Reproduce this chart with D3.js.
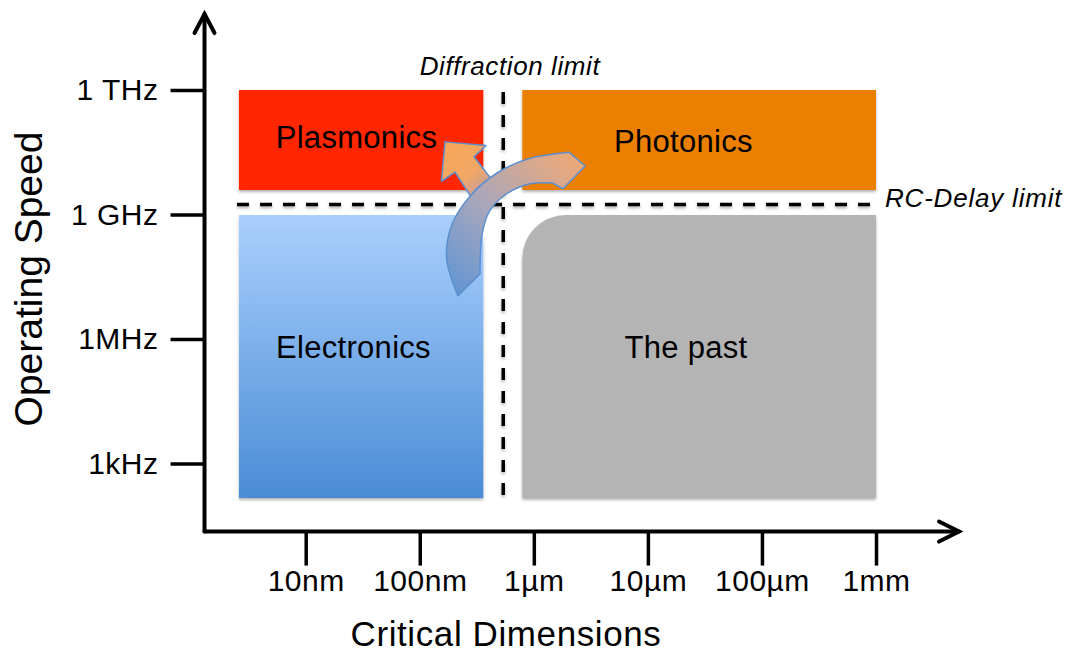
<!DOCTYPE html>
<html>
<head>
<meta charset="utf-8">
<script src="https://cdn.jsdelivr.net/npm/d3@7"></script>
<style>
  body { margin: 0; background: #fff; }
  svg text { font-family: "Liberation Sans", Arial, Helvetica, sans-serif; fill: #000; }
</style>
</head>
<body>
<div id="chart"></div>
<script>
// all positions in log10 units: x = log10(metres), y = log10(Hz)
const xTickValues = [-8, -7, -6, -5, -4, -3];
const xTickLabels = ["10nm", "100nm", "1µm", "10µm", "100µm", "1mm"];
const yTickValues = [3, 6, 9, 12];
const yTickLabels = ["1kHz", "1MHz", "1 GHz", "1 THz"];

const regionNames = ["Plasmonics", "Photonics", "Electronics", "The past"];
const regionX0 = [-8.585, -6.101, -8.585, -6.101];
const regionX1 = [-6.443, -3.0, -6.443, -3.0];
const regionY0 = [9.59, 9.59, 2.17, 2.17];
const regionY1 = [12.0, 12.0, 8.99, 8.99];
const labelX = [-7.555, -4.688, -7.581, -4.666];
const labelY = [10.60, 10.51, 5.54, 5.54];

const diffractionLimit = -6.268;   // vertical dashed line
const rcDelayLimit = 9.24;         // horizontal dashed line

// curved block arrow (electronics -> photonics) outline
const bigOuterX = [-6.665, -6.765, -6.720, -6.560, -6.323, -6.060, -5.841];
const bigOuterY = [7.04, 7.95, 8.74, 9.44, 10.0, 10.33, 10.45];
const bigHeadX = [-5.690, -5.550, -5.744, -5.841];
const bigHeadY = [10.50, 10.17, 9.62, 9.76];
const bigInnerX = [-5.841, -6.033, -6.253, -6.393, -6.454, -6.472];
const bigInnerY = [9.76, 9.74, 9.47, 9.06, 8.51, 7.57];
// small arrow towards plasmonics
const smallX = [-6.779, -6.420, -6.524, -6.330, -6.516, -6.691, -6.810];
const smallY = [10.75, 10.66, 10.39, 9.70, 9.28, 10.02, 9.80];

const width = 1075, height = 655;
const svg = d3.select("#chart").append("svg")
    .attr("width", width)
    .attr("height", height);

const x = d3.scaleLinear().domain([-8, -3]).range([305.7, 876]);
const y = d3.scaleLinear().domain([3, 12]).range([463.5, 90]);

const defs = svg.append("defs");
const shadow = defs.append("filter").attr("id", "shadow")
    .attr("x", "-10%").attr("y", "-10%").attr("width", "120%").attr("height", "130%");
shadow.append("feDropShadow").attr("dx", 0).attr("dy", 2)
    .attr("stdDeviation", 1.5).attr("flood-color", "#000").attr("flood-opacity", 0.3);

const blueGrad = defs.append("linearGradient").attr("id", "blueGrad")
    .attr("x1", 0).attr("y1", 0).attr("x2", 0).attr("y2", 1);
blueGrad.append("stop").attr("offset", "0%").attr("stop-color", "#aad0fd");
blueGrad.append("stop").attr("offset", "100%").attr("stop-color", "#4a8cd6");

const bigGrad = defs.append("linearGradient").attr("id", "bigGrad")
    .attr("gradientUnits", "userSpaceOnUse")
    .attr("x1", x(-6.66)).attr("y1", y(7.1))
    .attr("x2", x(-5.6)).attr("y2", y(10.3));
bigGrad.append("stop").attr("offset", "0%").attr("stop-color", "#6496d2");
bigGrad.append("stop").attr("offset", "45%").attr("stop-color", "#a7a6bc");
bigGrad.append("stop").attr("offset", "100%").attr("stop-color", "#efa977");

const smallGrad = defs.append("linearGradient").attr("id", "smallGrad")
    .attr("gradientUnits", "userSpaceOnUse")
    .attr("x1", x(-6.75)).attr("y1", y(10.7))
    .attr("x2", x(-6.4)).attr("y2", y(9.4));
smallGrad.append("stop").attr("offset", "0%").attr("stop-color", "#f7a75a");
smallGrad.append("stop").attr("offset", "55%").attr("stop-color", "#f2a765");
smallGrad.append("stop").attr("offset", "100%").attr("stop-color", "#b69cb0");

const fills = ["#ff2600", "#eb7f05", "url(#blueGrad)", "#b4b4b4"];

// rect path with optional rounded top-right / top-left corner
function regionPath(i) {
    let x0 = x(regionX0[i]), x1 = x(regionX1[i]);
    let y0 = y(regionY1[i]), y1 = y(regionY0[i]);
    let p = d3.path();
    if (i == 2) {
        let r = 28;
        p.moveTo(x0, y0);
        p.lineTo(x1 - r, y0);
        p.arcTo(x1, y0, x1, y0 + r, r);
        p.lineTo(x1, y1);
        p.lineTo(x0, y1);
    } else if (i == 3) {
        let r = 44;
        p.moveTo(x0 + r, y0);
        p.lineTo(x1, y0);
        p.lineTo(x1, y1);
        p.lineTo(x0, y1);
        p.lineTo(x0, y0 + r);
        p.arcTo(x0, y0, x0 + r, y0, r);
    } else {
        p.rect(x0, y0, x1 - x0, y1 - y0);
    }
    p.closePath();
    return p.toString();
}

svg.append("g").selectAll("path")
    .data(regionNames)
    .enter()
    .append("path")
    .attr("d", (d, i) => regionPath(i))
    .attr("fill", (d, i) => fills[i])
    .attr("filter", "url(#shadow)");

// dashed limit lines
const dashes = svg.append("g").attr("filter", "url(#shadow)")
    .attr("stroke", "#000").attr("stroke-width", 3.5).attr("stroke-dasharray", "12,11");
dashes.append("line")
    .attr("x1", x(-8.602)).attr("x2", x(-2.982))
    .attr("y1", y(rcDelayLimit)).attr("y2", y(rcDelayLimit));
dashes.append("line")
    .attr("x1", x(diffractionLimit)).attr("x2", x(diffractionLimit))
    .attr("y1", y(11.95)).attr("y2", y(2.24));

// region labels
svg.append("g").selectAll("text")
    .data(regionNames)
    .enter()
    .append("text")
    .attr("x", (d, i) => x(labelX[i]))
    .attr("y", (d, i) => y(labelY[i]))
    .attr("text-anchor", "middle")
    .style("font-size", "31px")
    .style("letter-spacing", "0.3px")
    .text(d => d);

// arrows
const smallPts = smallX.map((v, i) => [x(v), y(smallY[i])]);
svg.append("path")
    .attr("d", "M" + smallPts.join("L") + "Z")
    .attr("fill", "url(#smallGrad)")
    .attr("stroke", "#5b8fd0")
    .attr("stroke-width", 1.5)
    .attr("stroke-linejoin", "round");

const curve = d3.line().curve(d3.curveCatmullRom.alpha(0.5));
const outerPts = bigOuterX.map((v, i) => [x(v), y(bigOuterY[i])]);
const headPts = bigHeadX.map((v, i) => [x(v), y(bigHeadY[i])]);
const innerPts = bigInnerX.map((v, i) => [x(v), y(bigInnerY[i])]);
let bigD = curve(outerPts) + "L" + headPts.join("L") + curve(innerPts).replace(/^M/, "L") + "Z";
svg.append("path")
    .attr("d", bigD)
    .attr("fill", "url(#bigGrad)")
    .attr("stroke", "#5b8fd0")
    .attr("stroke-width", 1.5)
    .attr("stroke-linejoin", "round");

// limit labels
svg.append("text")
    .attr("x", x(-6.209)).attr("y", y(12.36))
    .attr("text-anchor", "middle")
    .style("font-size", "26px").style("font-style", "italic")
    .style("letter-spacing", "0.6px")
    .text("Diffraction limit");
svg.append("text")
    .attr("x", x(-2.921)).attr("y", y(9.18))
    .style("font-size", "26px").style("font-style", "italic")
    .style("letter-spacing", "0.8px")
    .text("RC-Delay limit");

// axes
const xAxisY = y(1.36), yAxisX = x(-8.887);

const xAxis = d3.axisBottom(x).tickValues(xTickValues)
    .tickFormat((d, i) => xTickLabels[i]).tickSize(34).tickPadding(4);
const gx = svg.append("g")
    .attr("transform", "translate(0," + xAxisY + ")")
    .call(xAxis);
gx.select(".domain").remove();
gx.selectAll(".tick line").attr("stroke", "#000").attr("stroke-width", 3.5);
gx.selectAll(".tick text").style("font-size", "30px").style("letter-spacing", "0.5px")
    .style("font-family", "'Liberation Sans', Arial, sans-serif").attr("fill", "#000");

const yAxis = d3.axisLeft(y).tickValues(yTickValues)
    .tickFormat((d, i) => yTickLabels[i]).tickSize(34).tickPadding(12);
const gy = svg.append("g")
    .attr("transform", "translate(" + yAxisX + ",0)")
    .call(yAxis);
gy.select(".domain").remove();
gy.selectAll(".tick line").attr("stroke", "#000").attr("stroke-width", 3.5);
gy.selectAll(".tick text").style("font-size", "30px").style("letter-spacing", "0.5px")
    .style("font-family", "'Liberation Sans', Arial, sans-serif").attr("fill", "#000");

// axis lines with open arrow heads
const axisG = svg.append("g").attr("stroke", "#000").attr("stroke-width", 4)
    .attr("fill", "none").attr("stroke-linecap", "round").attr("stroke-linejoin", "miter");
const xEnd = x(-2.272), yEnd = y(13.83);
axisG.append("path").attr("d", `M${yAxisX},${xAxisY}L${xEnd},${xAxisY}`);
axisG.append("path").attr("d", `M${yAxisX},${xAxisY}L${yAxisX},${yEnd}`);
axisG.append("path").attr("d", `M${xEnd - 20},${xAxisY - 10}L${xEnd},${xAxisY}L${xEnd - 20},${xAxisY + 10}`);
axisG.append("path").attr("d", `M${yAxisX - 10},${yEnd + 19}L${yAxisX},${yEnd}L${yAxisX + 10},${yEnd + 19}`);

// axis titles
svg.append("text")
    .attr("x", 506).attr("y", 646)
    .attr("text-anchor", "middle")
    .style("font-size", "35px")
    .style("letter-spacing", "0.6px")
    .text("Critical Dimensions");
svg.append("text")
    .attr("transform", "translate(42,279) rotate(-90)")
    .attr("text-anchor", "middle")
    .style("font-size", "39px")
    .text("Operating Speed");
</script>
</body>
</html>
